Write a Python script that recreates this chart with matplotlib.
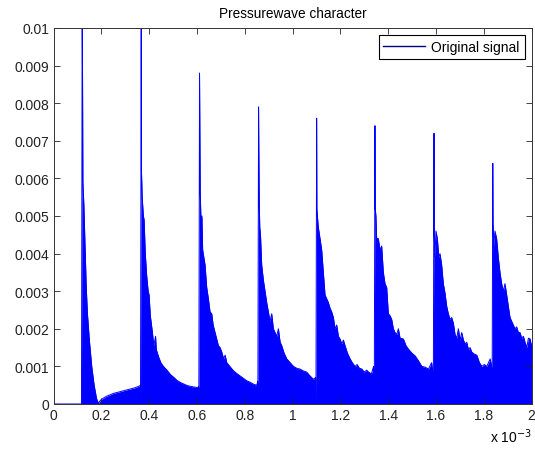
import matplotlib
matplotlib.use('Agg')
import matplotlib.pyplot as plt

# time axis in units of 1e-3 s, amplitudes in units of 1e-3
onsets = [0.120, 0.367, 0.611, 0.858, 1.101, 1.345, 1.592, 1.838]
peaks = [10.5, 10.5, 8.8, 7.9, 7.6, 7.4, 7.2, 6.4]

# upper edge of the (dense) signal after every pulse
tail_t = [
    [0.1215, 0.123, 0.127, 0.132, 0.137, 0.142, 0.150, 0.160, 0.170, 0.180, 0.188,
     0.190, 0.200, 0.220, 0.250, 0.280, 0.310, 0.340, 0.360, 0.364],
    [0.368, 0.371, 0.376, 0.379, 0.384, 0.390, 0.396, 0.400, 0.405, 0.412, 0.420,
     0.427, 0.430, 0.440, 0.449, 0.460, 0.476, 0.490, 0.505, 0.518, 0.535, 0.560,
     0.580, 0.600, 0.608],
    [0.612, 0.614, 0.617, 0.621, 0.624, 0.634, 0.641, 0.648, 0.655, 0.662, 0.668,
     0.676, 0.690, 0.697, 0.704, 0.712, 0.718, 0.725, 0.738, 0.752, 0.765, 0.780,
     0.795, 0.808, 0.822, 0.836, 0.850, 0.855],
    [0.859, 0.861, 0.863, 0.866, 0.871, 0.878, 0.885, 0.892, 0.899, 0.906, 0.913,
     0.920, 0.927, 0.934, 0.941, 0.948, 0.955, 0.965, 0.976, 0.990, 1.004, 1.018,
     1.031, 1.045, 1.059, 1.073, 1.087, 1.097],
    [1.102, 1.104, 1.108, 1.115, 1.122, 1.129, 1.136, 1.143, 1.150, 1.157, 1.164,
     1.171, 1.178, 1.185, 1.192, 1.199, 1.206, 1.213, 1.220, 1.230, 1.241, 1.250,
     1.262, 1.270, 1.280, 1.290, 1.300, 1.310, 1.318, 1.330, 1.339, 1.342],
    [1.346, 1.349, 1.352, 1.359, 1.366, 1.373, 1.380, 1.387, 1.394, 1.401, 1.408,
     1.415, 1.422, 1.429, 1.436, 1.443, 1.450, 1.464, 1.475, 1.485, 1.500, 1.513,
     1.527, 1.541, 1.555, 1.569, 1.582, 1.588],
    [1.593, 1.596, 1.600, 1.606, 1.612, 1.617, 1.624, 1.631, 1.638, 1.645, 1.652,
     1.659, 1.666, 1.673, 1.680, 1.687, 1.694, 1.701, 1.708, 1.715, 1.722, 1.729,
     1.736, 1.743, 1.750, 1.760, 1.771, 1.782, 1.792, 1.803, 1.813, 1.827, 1.834],
    [1.839, 1.842, 1.847, 1.854, 1.861, 1.868, 1.875, 1.882, 1.889, 1.896, 1.903,
     1.910, 1.917, 1.924, 1.931, 1.938, 1.945, 1.952, 1.959, 1.966, 1.973, 1.980,
     1.987, 1.994, 2.000],
]
tail_v = [
    [8.7, 5.9, 5.3, 4.2, 3.1, 2.4, 1.7, 1.0, 0.5, 0.15, 0.0,
     0.05, 0.12, 0.20, 0.28, 0.33, 0.38, 0.43, 0.48, 0.50],
    [6.2, 5.5, 5.0, 4.9, 4.0, 3.4, 3.0, 2.9, 2.35, 2.0, 1.55,
     1.8, 1.45, 1.25, 1.1, 1.0, 0.89, 0.78, 0.70, 0.62, 0.56, 0.49,
     0.46, 0.44, 0.45],
    [7.7, 5.6, 4.9, 5.0, 4.1, 3.7, 3.1, 2.8, 2.45, 2.4, 2.1,
     1.9, 1.55, 1.5, 1.38, 1.2, 1.3, 1.1, 1.0, 0.89, 0.82, 0.75,
     0.68, 0.62, 0.58, 0.53, 0.50, 0.60],
    [6.85, 5.3, 4.7, 4.5, 3.7, 3.3, 3.0, 2.7, 2.45, 2.2, 2.4,
     2.0, 1.9, 1.8, 2.0, 1.65, 1.55, 1.35, 1.2, 1.1, 1.0, 0.95,
     0.93, 0.88, 0.85, 0.75, 0.66, 0.70],
    [5.2, 5.0, 4.7, 4.4, 4.1, 3.5, 2.9, 2.8, 2.7, 2.55, 2.45,
     2.3, 2.0, 2.1, 1.8, 1.73, 1.6, 1.7, 1.55, 1.35, 1.2, 1.1,
     1.0, 1.05, 0.95, 0.93, 0.85, 0.9, 0.85, 0.8, 1.0, 0.7],
    [5.2, 5.0, 4.4, 4.4, 4.1, 4.2, 3.5, 3.2, 3.1, 2.4, 2.35,
     2.25, 2.0, 1.9, 1.85, 2.0, 1.75, 1.73, 1.55, 1.46, 1.35, 1.28,
     1.15, 1.0, 0.98, 0.93, 1.1, 0.8],
    [4.5, 3.9, 4.6, 4.4, 3.9, 4.0, 3.7, 3.2, 2.95, 2.6, 2.4,
     2.25, 2.3, 2.15, 1.85, 1.75, 2.0, 1.7, 1.9, 1.7, 1.6, 1.64,
     1.45, 1.5, 1.38, 1.33, 1.3, 1.1, 1.0, 1.05, 1.0, 1.2, 0.95],
    [4.8, 4.2, 4.6, 4.4, 3.9, 3.5, 3.2, 3.0, 3.2, 2.9, 2.6,
     2.3, 2.2, 2.1, 2.0, 2.05, 1.9, 1.9, 1.75, 1.8, 1.64, 1.5,
     1.75, 1.73, 1.55],
]

xticks = [0, 0.2, 0.4, 0.6, 0.8, 1, 1.2, 1.4, 1.6, 1.8, 2]
yticks = [0, 1, 2, 3, 4, 5, 6, 7, 8, 9, 10]
xlabels = ['0', '0.2', '0.4', '0.6', '0.8', '1', '1.2', '1.4', '1.6', '1.8', '2']
ylabels = ['0', '0.001', '0.002', '0.003', '0.004', '0.005', '0.006', '0.007',
           '0.008', '0.009', '0.01']

# join everything into one upper edge; the signal drops to zero just before a pulse
t = [0.0]
v = [0.0]
for t0, pk, tt, vv in zip(onsets, peaks, tail_t, tail_v):
    t += [t0 - 0.003, t0]
    v += [0.0, pk]
    t += tt
    v += vv

plt.rcParams['font.family'] = ['Liberation Sans', 'DejaVu Sans']
fig = plt.figure(figsize=(5.35, 4.52), dpi=100)
ax = fig.add_axes([0.100, 0.104, 0.8935, 0.832])

ax.fill_between(t, 0, v, color='#0000ff', linewidth=0)
line, = ax.plot(t, v, color='#0000ff', linewidth=0.7)

ax.set_xlim(0, 2)
ax.set_ylim(0, 10)
ax.set_xticks(xticks)
ax.set_xticklabels(xlabels)
ax.set_yticks(yticks)
ax.set_yticklabels(ylabels)
ax.tick_params(direction='in', top=True, right=True, length=4, width=0.6,
               labelsize=10, colors='#222222', pad=3)
for s in ax.spines.values():
    s.set_linewidth(0.7)
    s.set_color('#333333')

ax.set_title('Pressurewave character', fontsize=9.8, pad=8)
ax.text(1.0, -0.085, r'x 10$^{-3}$', transform=ax.transAxes, ha='right',
        va='center', fontsize=10)

leg = ax.legend([line], ['Original signal'], loc='upper right', fontsize=10,
                fancybox=False, framealpha=1, edgecolor='black',
                handlelength=3.0, handletextpad=0.45, borderaxespad=0.5,
                borderpad=0.35)
leg.get_frame().set_linewidth(0.8)
leg.get_lines()[0].set_color('#000080')
leg.get_lines()[0].set_linewidth(1.0)

fig.savefig('out.png', dpi=100)
